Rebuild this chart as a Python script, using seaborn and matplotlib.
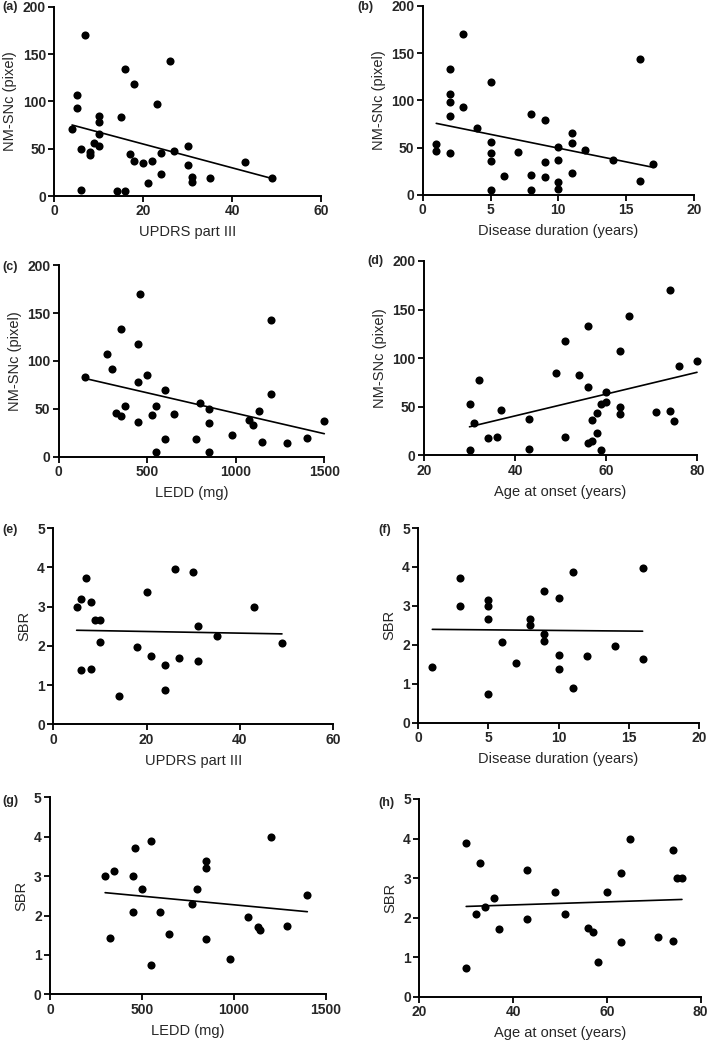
import matplotlib
matplotlib.use('Agg')
import matplotlib.pyplot as plt
import seaborn as sns
import pandas as pd

# NM-SNc (pixel) vs clinical measures
updrs_a = [7, 5, 5, 4, 6, 6, 8, 8, 9, 10, 10, 10, 10, 14, 16, 16, 15, 18, 17, 18,
           20, 21, 22, 23, 24, 24, 26, 27, 30, 30, 31, 31, 35, 43, 49]
nm_a = [170, 107, 93, 71, 50, 6, 47, 43, 56, 85, 78, 65, 53, 5, 5, 134, 83, 118, 44, 37,
        35, 14, 37, 97, 45, 23, 143, 48, 53, 33, 20, 15, 19, 36, 19]

duration_b = [1, 1, 2, 2, 2, 2, 2, 3, 3, 4, 5, 5, 5, 5, 5, 6, 7, 8, 8, 8,
              9, 9, 9, 10, 10, 10, 10, 11, 11, 11, 12, 14, 16, 16, 17]
nm_b = [54, 47, 133, 107, 98, 83, 44, 170, 93, 71, 119, 56, 44, 36, 5, 20, 45, 86, 21, 5,
        79, 35, 19, 51, 37, 14, 6, 65, 55, 23, 48, 37, 15, 144, 33]

ledd_c = [150, 275, 300, 325, 350, 350, 375, 450, 450, 450, 460, 500, 525, 550, 550,
          600, 600, 650, 775, 800, 850, 850, 850, 980, 1075, 1100, 1130, 1150, 1200,
          1200, 1290, 1400, 1500]
nm_c = [83, 107, 92, 46, 43, 133, 53, 78, 118, 36, 170, 85, 44, 53, 5,
        70, 19, 45, 18, 56, 50, 35, 5, 23, 38, 33, 48, 15, 143,
        65, 14, 20, 37]

onset_d = [30, 30, 32, 31, 34, 36, 37, 43, 43, 49, 51, 51, 54, 56, 56, 56, 57, 57,
           58, 58, 59, 59, 60, 60, 63, 63, 63, 65, 71, 74, 74, 75, 76, 80]
nm_d = [53, 5, 78, 33, 18, 19, 47, 37, 6, 85, 118, 19, 83, 133, 70, 13, 15, 36,
        44, 23, 53, 5, 65, 55, 107, 50, 43, 143, 45, 46, 170, 35, 92, 97]

# SBR vs clinical measures
updrs_e = [5, 6, 7, 8, 9, 10, 10, 6, 8, 14, 18, 20, 21, 24, 24, 26, 27, 30, 31, 31,
           35, 43, 49]
sbr_e = [3.0, 3.2, 3.72, 3.13, 2.65, 2.65, 2.09, 1.38, 1.42, 0.73, 1.97, 3.38, 1.73,
         1.52, 0.87, 3.97, 1.70, 3.88, 2.50, 1.62, 2.26, 3.0, 2.08]

duration_f = [1, 3, 3, 5, 5, 5, 5, 6, 7, 8, 8, 9, 9, 9, 10, 10, 10, 11, 11, 12, 14, 16, 16]
sbr_f = [1.44, 3.71, 3.0, 3.14, 3.0, 2.66, 0.73, 2.08, 1.53, 2.67, 2.51, 3.37, 2.28,
         2.10, 3.2, 1.74, 1.39, 3.88, 0.89, 1.71, 1.97, 3.97, 1.63]

ledd_g = [300, 350, 460, 450, 550, 500, 450, 325, 600, 650, 550, 775, 800, 850, 850,
          850, 980, 1075, 1130, 1145, 1200, 1290, 1400]
sbr_g = [3.0, 3.14, 3.71, 3.0, 3.88, 2.66, 2.10, 1.44, 2.08, 1.54, 0.74, 2.28, 2.66,
         3.38, 3.21, 1.40, 0.89, 1.97, 1.72, 1.62, 3.98, 1.74, 2.52]

onset_h = [30, 30, 32, 33, 34, 36, 37, 43, 43, 49, 51, 56, 57, 58, 60, 63, 63, 65,
           71, 74, 74, 75, 76]
sbr_h = [3.89, 0.73, 2.10, 3.38, 2.27, 2.51, 1.71, 3.2, 1.97, 2.66, 2.09, 1.74, 1.63,
         0.88, 2.66, 3.13, 1.40, 3.98, 1.52, 3.72, 1.42, 3.0, 3.0]

sns.set_style('ticks')
plt.rcParams['font.family'] = ['Liberation Sans', 'DejaVu Sans']

W, H = 709, 1046
fig = plt.figure(figsize=(W / 100, H / 100), dpi=100)

# (label, x, y, xlabel, ylabel, xlim, xticks, ylim, yticks, axes box in px, label pos px)
panels = [
    ('(a)', updrs_a, nm_a, 'UPDRS part III', 'NM-SNc (pixel)', (0, 60), [0, 20, 40, 60],
     (0, 200), [0, 50, 100, 150, 200], (54.3, 6.7, 321, 196), (2, 7)),
    ('(b)', duration_b, nm_b, 'Disease duration (years)', 'NM-SNc (pixel)', (0, 20), [0, 5, 10, 15, 20],
     (0, 200), [0, 50, 100, 150, 200], (422.7, 5.7, 694, 195), (357, 7)),
    ('(c)', ledd_c, nm_c, 'LEDD (mg)', 'NM-SNc (pixel)', (0, 1500), [0, 500, 1000, 1500],
     (0, 200), [0, 50, 100, 150, 200], (58.7, 265.3, 324.3, 456.7), (2, 267)),
    ('(d)', onset_d, nm_d, 'Age at onset (years)', 'NM-SNc (pixel)', (20, 80), [20, 40, 60, 80],
     (0, 200), [0, 50, 100, 150, 200], (424, 261, 697, 455.3), (367, 261)),
    ('(e)', updrs_e, sbr_e, 'UPDRS part III', 'SBR', (0, 60), [0, 20, 40, 60],
     (0, 5), [0, 1, 2, 3, 4, 5], (53.3, 528.3, 333.3, 724.3), (2, 530)),
    ('(f)', duration_f, sbr_f, 'Disease duration (years)', 'SBR', (0, 20), [0, 5, 10, 15, 20],
     (0, 5), [0, 1, 2, 3, 4, 5], (418.3, 528, 698.7, 722.7), (378, 530)),
    ('(g)', ledd_g, sbr_g, 'LEDD (mg)', 'SBR', (0, 1500), [0, 500, 1000, 1500],
     (0, 5), [0, 1, 2, 3, 4, 5], (50, 797.3, 325.7, 994.3), (2, 801)),
    ('(h)', onset_h, sbr_h, 'Age at onset (years)', 'SBR', (20, 80), [20, 40, 60, 80],
     (0, 5), [0, 1, 2, 3, 4, 5], (419.3, 799, 700.7, 997), (378, 803)),
]

for lab, xs, ys, xlab, ylab, xlim, xt, ylim, yt, box, lpos in panels:
    l, t, r, b = box
    ax = fig.add_axes([l / W, 1 - b / H, (r - l) / W, (b - t) / H])
    df = pd.DataFrame({'x': xs, 'y': ys})
    sns.regplot(x='x', y='y', data=df, ax=ax, ci=None, color='black',
                scatter_kws={'s': 34, 'alpha': 1, 'clip_on': False, 'linewidths': 0},
                line_kws={'lw': 1.2, 'clip_on': False})
    ax.set_xlim(*xlim)
    ax.set_ylim(*ylim)
    ax.set_xticks(xt)
    ax.set_yticks(yt)
    ax.set_xlabel(xlab, fontsize=10.5, labelpad=5)
    ax.set_ylabel(ylab, fontsize=10.5, labelpad=4)
    ax.tick_params(direction='out', length=4, width=1.3, labelsize=10, pad=2, color='black')
    for tl in ax.get_xticklabels() + ax.get_yticklabels():
        tl.set_fontweight('bold')
    sns.despine(ax=ax)
    for sp in ('left', 'bottom'):
        ax.spines[sp].set_linewidth(1.4)
        ax.spines[sp].set_color('black')
    fig.text(lpos[0] / W, 1 - lpos[1] / H, lab, fontsize=9, fontweight='bold',
             ha='left', va='center')

fig.savefig('out.png', dpi=100)
